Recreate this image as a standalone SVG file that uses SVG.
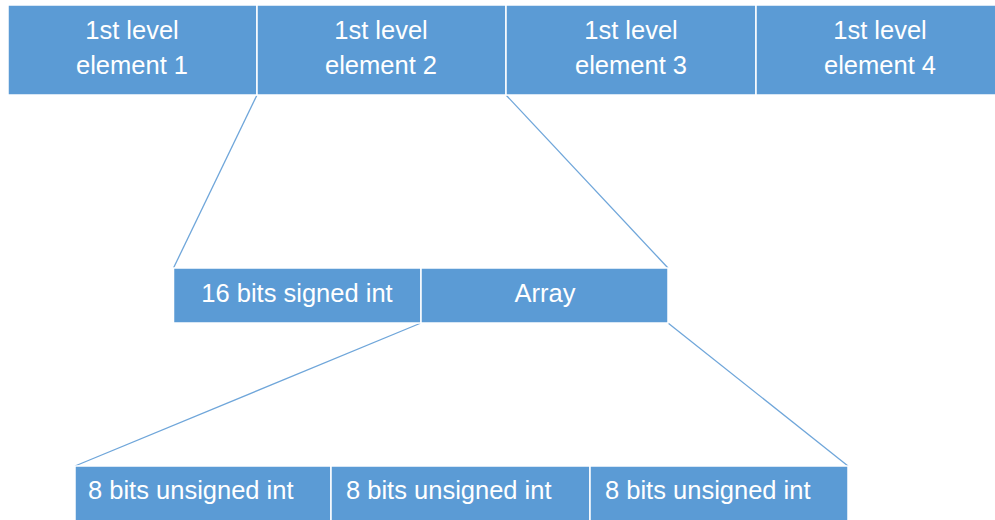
<svg xmlns="http://www.w3.org/2000/svg" width="995" height="520" viewBox="0 0 995 520">
<style>
.box{fill:#5B9BD5;stroke:#ffffff;stroke-width:1.5}
.t{fill:#ffffff;font-family:"Liberation Sans",Arial,sans-serif;font-size:25.5px}
.c{text-anchor:middle}
.ln{stroke:#6FA6DA;stroke-width:1.3;fill:none}
</style>
<rect x="0" y="0" width="995" height="520" fill="#ffffff"/>
<g id="connectors">
<line class="ln" x1="257" y1="95" x2="173.5" y2="268"/>
<line class="ln" x1="506" y1="95" x2="668" y2="268"/>
<line class="ln" x1="421" y1="323" x2="75" y2="466"/>
<line class="ln" x1="668" y1="323" x2="848" y2="466"/>
</g>
<g id="l1e1"><rect class="box" x="8" y="5" width="249" height="90"/><text class="t c" x="132" y="39">1st level</text><text class="t c" x="132" y="74">element 1</text></g>
<g id="l1e2"><rect class="box" x="257" y="5" width="249" height="90"/><text class="t c" x="381" y="39">1st level</text><text class="t c" x="381" y="74">element 2</text></g>
<g id="l1e3"><rect class="box" x="506" y="5" width="250" height="90"/><text class="t c" x="631" y="39">1st level</text><text class="t c" x="631" y="74">element 3</text></g>
<g id="l1e4"><rect class="box" x="756" y="5" width="245" height="90"/><text class="t c" x="880" y="39">1st level</text><text class="t c" x="880" y="74">element 4</text></g>
<g id="int16"><rect class="box" x="173.5" y="268" width="247.5" height="55"/><text class="t c" x="297" y="302">16 bits signed int</text></g>
<g id="array"><rect class="box" x="421" y="268" width="247" height="55"/><text class="t c" x="545" y="302">Array</text></g>
<g id="u8a"><rect class="box" x="75" y="466" width="256" height="60"/><text class="t" x="88" y="499">8 bits unsigned int</text></g>
<g id="u8b"><rect class="box" x="331" y="466" width="259" height="60"/><text class="t" x="346" y="499">8 bits unsigned int</text></g>
<g id="u8c"><rect class="box" x="590" y="466" width="258" height="60"/><text class="t" x="605" y="499">8 bits unsigned int</text></g>
</svg>
